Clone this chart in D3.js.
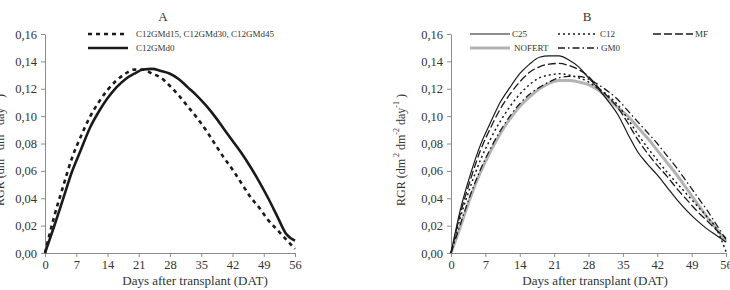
<!DOCTYPE html>
<html>
<head>
<meta charset="utf-8">
<script src="https://cdn.jsdelivr.net/npm/d3@7"></script>
<style>
  body { margin: 0; background: #fff; }
  svg text { font-family: "Liberation Serif", "Times New Roman", serif; fill: #333; }
</style>
</head>
<body>
<div id="chart"></div>
<script>
// days after transplant (sampled every 2 days)
var days = [0, 2, 4, 6, 8, 10, 12, 14, 16, 18, 20, 22, 24, 26, 28, 30, 32, 34, 36, 38, 40, 42, 44, 46, 48, 50, 52, 54, 56];
var xTicks = [0, 7, 14, 21, 28, 35, 42, 49, 56];
var yTicks = [0, 0.02, 0.04, 0.06, 0.08, 0.10, 0.12, 0.14, 0.16];

// panel A
var aDashed = [0, 0.026, 0.048, 0.069, 0.085, 0.099, 0.110, 0.119, 0.126, 0.131, 0.134, 0.134, 0.131, 0.128, 0.122, 0.115, 0.107, 0.099, 0.090, 0.080, 0.070, 0.061, 0.051, 0.041, 0.033, 0.024, 0.017, 0.010, 0.003];
var aSolid = [0, 0.019, 0.039, 0.059, 0.075, 0.091, 0.103, 0.113, 0.121, 0.127, 0.131, 0.134, 0.1345, 0.133, 0.131, 0.127, 0.121, 0.115, 0.108, 0.100, 0.091, 0.082, 0.073, 0.063, 0.052, 0.040, 0.027, 0.014, 0.009];

// panel B
var bC25 = [0, 0.033, 0.058, 0.079, 0.095, 0.110, 0.121, 0.131, 0.138, 0.143, 0.144, 0.144, 0.141, 0.136, 0.128, 0.120, 0.111, 0.101, 0.087, 0.074, 0.065, 0.057, 0.048, 0.039, 0.031, 0.024, 0.018, 0.013, 0.008];
var bMF = [0, 0.030, 0.054, 0.075, 0.091, 0.105, 0.116, 0.125, 0.132, 0.136, 0.138, 0.1385, 0.137, 0.134, 0.129, 0.121, 0.114, 0.106, 0.095, 0.083, 0.073, 0.064, 0.056, 0.047, 0.039, 0.031, 0.024, 0.017, 0.011];
var bC12 = [0, 0.027, 0.049, 0.068, 0.083, 0.096, 0.107, 0.116, 0.123, 0.128, 0.130, 0.131, 0.130, 0.128, 0.125, 0.120, 0.115, 0.108, 0.098, 0.087, 0.077, 0.068, 0.059, 0.051, 0.043, 0.035, 0.027, 0.018, 0.001];
var bGM0 = [0, 0.022, 0.043, 0.061, 0.076, 0.089, 0.100, 0.109, 0.116, 0.121, 0.125, 0.128, 0.129, 0.129, 0.127, 0.123, 0.118, 0.112, 0.104, 0.096, 0.088, 0.080, 0.071, 0.062, 0.052, 0.042, 0.032, 0.021, 0.010];
var bNOFERT = [0, 0.020, 0.041, 0.059, 0.074, 0.087, 0.098, 0.107, 0.114, 0.120, 0.124, 0.126, 0.126, 0.125, 0.123, 0.119, 0.113, 0.106, 0.100, 0.092, 0.084, 0.075, 0.066, 0.057, 0.047, 0.037, 0.027, 0.018, 0.008];

var svg = d3.select("#chart").append("svg")
    .attr("width", 730)
    .attr("height", 290);

var fmt = function (v) { return d3.format(".2f")(v).replace(".", ","); };

// draws axes + titles for one panel, returns scales
function drawPanel(opt) {
    var x = d3.scaleLinear().domain([0, 56]).range([opt.x0, opt.x1]);
    var y = d3.scaleLinear().domain([0, 0.16]).range([253, 34]);

    var gx = svg.append("g")
        .attr("transform", "translate(0,253)")
        .call(d3.axisBottom(x).tickValues(xTicks).tickSize(4).tickSizeOuter(0).tickPadding(3));
    var gy = svg.append("g")
        .attr("transform", "translate(" + opt.x0 + ",0)")
        .call(d3.axisLeft(y).tickValues(yTicks).tickFormat(fmt).tickSize(4).tickSizeOuter(0).tickPadding(4));

    [gx, gy].forEach(function (g) {
        g.select(".domain").attr("stroke", "#8c8c8c");
        g.selectAll(".tick line").attr("stroke", "#8c8c8c");
        g.selectAll(".tick text").attr("font-size", 12.5).attr("fill", "#333");
    });

    svg.append("text")
        .attr("x", opt.axisTitleX)
        .attr("y", 285)
        .attr("text-anchor", "middle")
        .attr("font-size", 13)
        .text("Days after transplant (DAT)");

    svg.append("text")
        .attr("x", opt.titleX)
        .attr("y", 21)
        .attr("text-anchor", "middle")
        .attr("font-size", 13)
        .text(opt.title);

    // y label with superscripts
    var yl = svg.append("text")
        .attr("transform", "translate(" + opt.labelX + ",150) rotate(-90)")
        .attr("text-anchor", "middle")
        .attr("font-size", 12);
    yl.append("tspan").text("RGR (dm");
    yl.append("tspan").attr("font-size", 8).attr("dy", -6).text(" 2");
    yl.append("tspan").attr("dy", 6).text(" dm");
    yl.append("tspan").attr("font-size", 8).attr("dy", -6).text("-2");
    yl.append("tspan").attr("dy", 6).text(" day");
    yl.append("tspan").attr("font-size", 8).attr("dy", -6).text("-1");
    yl.append("tspan").attr("dy", 6).text(" )");

    return { x: x, y: y };
}

function drawLine(sc, values, style) {
    var line = d3.line()
        .x(function (d, i) { return sc.x(days[i]); })
        .y(function (d) { return sc.y(d); })
        .curve(d3.curveMonotoneX);
    svg.append("path")
        .datum(values)
        .attr("fill", "none")
        .attr("stroke", style.color)
        .attr("stroke-width", style.width)
        .attr("stroke-dasharray", style.dash || null)
        .attr("d", line);
}

function legendItem(x, y, label, style, textX) {
    svg.append("line")
        .attr("x1", x).attr("x2", x + 40)
        .attr("y1", y).attr("y2", y)
        .attr("stroke", style.color)
        .attr("stroke-width", style.width)
        .attr("stroke-dasharray", style.dash || null);
    svg.append("text")
        .attr("x", textX != null ? textX : x + 42)
        .attr("y", y)
        .attr("dy", "0.35em")
        .attr("font-size", 9)
        .text(label);
}

// --- Panel A ---
var styleA = {
    dashed: { color: "#1a1a1a", width: 2.6, dash: "4,4" },
    solid: { color: "#1a1a1a", width: 2.6 }
};
var scA = drawPanel({ x0: 45, x1: 295, title: "A", titleX: 163, labelX: 4, axisTitleX: 195 });
drawLine(scA, aDashed, styleA.dashed);
drawLine(scA, aSolid, styleA.solid);
legendItem(88, 34, "C12GMd15, C12GMd30, C12GMd45", styleA.dashed, 136);
legendItem(88, 48, "C12GMd0", styleA.solid, 136);

// --- Panel B ---
var styleB = {
    C25: { color: "#1a1a1a", width: 1.2 },
    C12: { color: "#1a1a1a", width: 1.5, dash: "2,3" },
    MF: { color: "#1a1a1a", width: 1.3, dash: "8,3" },
    NOFERT: { color: "#b3b3b3", width: 3 },
    GM0: { color: "#1a1a1a", width: 1.3, dash: "7,3,1.5,3" }
};
var scB = drawPanel({ x0: 451, x1: 726, title: "B", titleX: 587, labelX: 405, axisTitleX: 595 });
drawLine(scB, bNOFERT, styleB.NOFERT);
drawLine(scB, bGM0, styleB.GM0);
drawLine(scB, bC12, styleB.C12);
drawLine(scB, bMF, styleB.MF);
drawLine(scB, bC25, styleB.C25);
legendItem(470, 34, "C25", styleB.C25);
legendItem(558, 34, "C12", styleB.C12);
legendItem(653, 34, "MF", styleB.MF);
legendItem(470, 48, "NOFERT", styleB.NOFERT, 514);
legendItem(558, 48, "GM0", styleB.GM0, 601);
</script>
</body>
</html>
